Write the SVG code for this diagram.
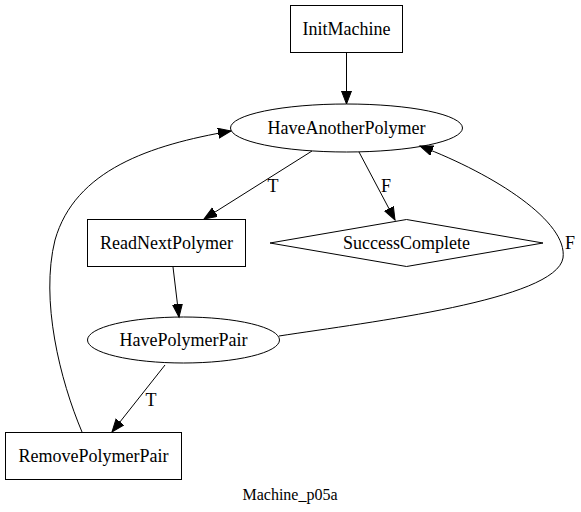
<svg xmlns="http://www.w3.org/2000/svg" width="581" height="512" viewBox="0 0 581 512">
<style>
.n{fill:none;stroke:#000;stroke-width:1}
.e{fill:none;stroke:#000;stroke-width:1}
</style>
<defs>
<marker id="a" markerUnits="userSpaceOnUse" markerWidth="16" markerHeight="12" refX="13" refY="5" orient="auto">
<polygon points="0,0 13,5 0,10" fill="#000" stroke="#000"/>
</marker>
</defs>
<rect width="581" height="512" fill="#fff"/>
<g font-family="'Liberation Serif', 'DejaVu Serif', serif" font-size="18" text-anchor="middle" fill="#000">
<g id="edges">
<path class="e" d="M346.5,53 L346.5,104" marker-end="url(#a)"/>
<path class="e" d="M312,151 L204,219" marker-end="url(#a)"/>
<text x="273" y="192">T</text>
<path class="e" d="M359,152 L395,220" marker-end="url(#a)"/>
<text x="386" y="192">F</text>
<path class="e" d="M173,267 L179,317" marker-end="url(#a)"/>
<path class="e" d="M165,365 L112,432" marker-end="url(#a)"/>
<text x="151" y="406">T</text>
<path class="e" d="M279,336 C370,322 556,300 563,258 C568,222 496,175 420,146" marker-end="url(#a)"/>
<text x="570" y="249">F</text>
<path class="e" d="M82,432 C60,380 40,300 55,240 C75,170 150,145 231,131" marker-end="url(#a)"/>
</g>
<g id="InitMachine">
<rect class="n" x="290.5" y="5.5" width="112" height="47"/>
<text x="346.5" y="35">InitMachine</text>
</g>
<g id="HaveAnotherPolymer">
<ellipse class="n" cx="346.5" cy="128" rx="116" ry="24"/>
<text x="346.5" y="134">HaveAnotherPolymer</text>
</g>
<g id="ReadNextPolymer">
<rect class="n" x="87.5" y="219.5" width="158" height="47"/>
<text x="166.5" y="249">ReadNextPolymer</text>
</g>
<g id="SuccessComplete">
<polygon class="n" points="406.5,219.5 543,243 406.5,266.5 270,243"/>
<text x="406.5" y="249">SuccessComplete</text>
</g>
<g id="HavePolymerPair">
<ellipse class="n" cx="183.5" cy="340" rx="96" ry="23"/>
<text x="183.5" y="346">HavePolymerPair</text>
</g>
<g id="RemovePolymerPair">
<rect class="n" x="5.5" y="432.5" width="176" height="47"/>
<text x="93.5" y="462">RemovePolymerPair</text>
</g>
<text x="290" y="500" font-size="16">Machine_p05a</text>
</g>
</svg>
